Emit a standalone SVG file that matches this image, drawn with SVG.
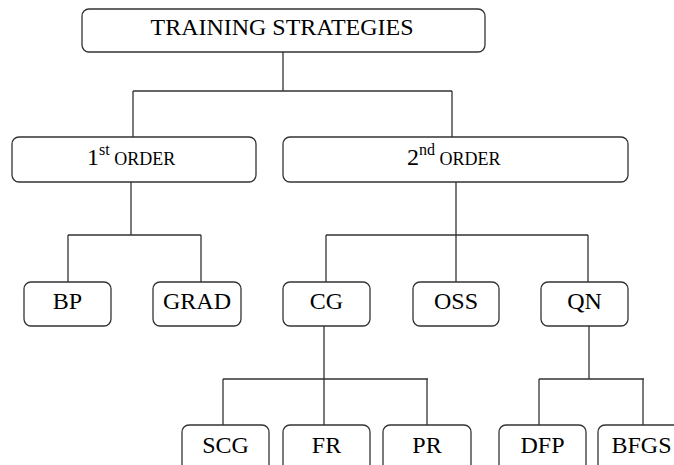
<svg xmlns="http://www.w3.org/2000/svg" width="674" height="465" viewBox="0 0 674 465">
<style>
.box{fill:#fff;stroke:#333;stroke-width:1.3}
.lbl{font-size:24px;fill:#000;text-anchor:middle}
.ord{fill:#000}
.con{fill:none;stroke:#333;stroke-width:1.3}
</style>
<rect width="674" height="465" fill="#fff"/>
<g id="connectors" class="con">
<path d="M283 52V91M133 91H452M133 91V137M452 91V137"/>
<path d="M131 182V235M68 235H201M68 235V282M201 235V282"/>
<path d="M456 182V235M326 235H588M326 235V282M456 235V282M588 235V282"/>
<path d="M324 326V379M223 379H428M223 379V425M324 379V425M427 379V425"/>
<path d="M589 326V379M539 379H644M539 379V425M643 379V425"/>
</g>
<g font-family="Liberation Serif, DejaVu Serif, serif">
<g id="training">
<rect class="box" x="82" y="9" width="403" height="43" rx="7"/>
<text class="lbl" x="282" y="35" textLength="263" lengthAdjust="spacingAndGlyphs">TRAINING STRATEGIES</text>
</g>
<g id="first">
<rect class="box" x="12" y="137" width="244" height="45" rx="7"/>
<text class="ord" x="87" y="165"><tspan font-size="24">1</tspan><tspan font-size="16" dy="-10">st</tspan><tspan font-size="18" dy="10"> ORDER</tspan></text>
</g>
<g id="second">
<rect class="box" x="283" y="137" width="345" height="45" rx="7"/>
<text class="ord" x="407" y="165"><tspan font-size="24">2</tspan><tspan font-size="16" dy="-10">nd</tspan><tspan font-size="18" dy="10"> ORDER</tspan></text>
</g>
<g id="bp"><rect class="box" x="24" y="282" width="87" height="44" rx="7"/><text class="lbl" x="67.5" y="309">BP</text></g>
<g id="grad"><rect class="box" x="153" y="282" width="88" height="44" rx="7"/><text class="lbl" x="197" y="309">GRAD</text></g>
<g id="cg"><rect class="box" x="283" y="282" width="87" height="44" rx="7"/><text class="lbl" x="326.5" y="309">CG</text></g>
<g id="oss"><rect class="box" x="413" y="282" width="86" height="44" rx="7"/><text class="lbl" x="456" y="309">OSS</text></g>
<g id="qn"><rect class="box" x="541" y="282" width="87" height="44" rx="7"/><text class="lbl" x="584.5" y="309">QN</text></g>
<g id="scg"><rect class="box" x="182" y="425" width="87" height="50" rx="7"/><text class="lbl" x="225.5" y="453">SCG</text></g>
<g id="fr"><rect class="box" x="283" y="425" width="87" height="50" rx="7"/><text class="lbl" x="326.5" y="453">FR</text></g>
<g id="pr"><rect class="box" x="383" y="425" width="88" height="50" rx="7"/><text class="lbl" x="427" y="453">PR</text></g>
<g id="dfp"><rect class="box" x="499" y="425" width="87" height="50" rx="7"/><text class="lbl" x="542.5" y="453">DFP</text></g>
<g id="bfgs"><rect class="box" x="598" y="425" width="87" height="50" rx="7"/><text class="lbl" x="641.5" y="453">BFGS</text></g>
</g>
</svg>
